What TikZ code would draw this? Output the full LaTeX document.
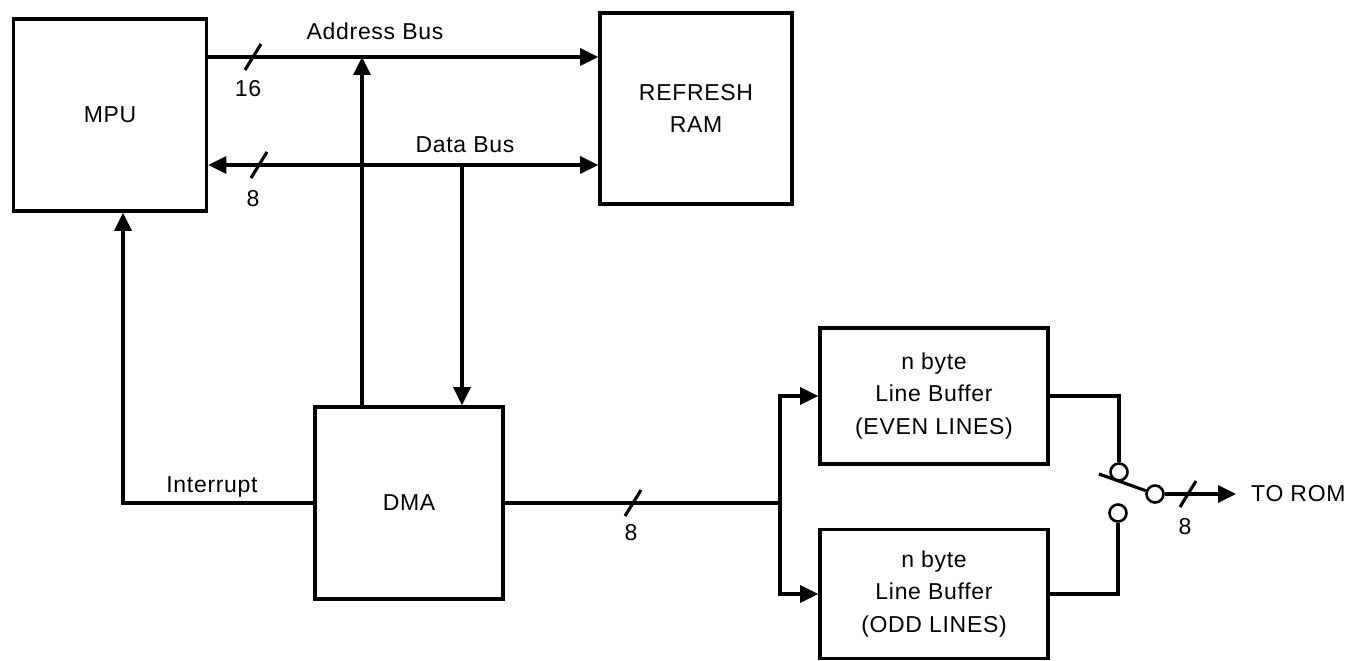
\documentclass[tikz,border=0pt]{standalone}
\usepackage{fontspec}
\setmainfont{Liberation Sans}[LetterSpace=3]
\usetikzlibrary{arrows.meta,calc}
\begin{document}
\begin{tikzpicture}[x=1pt,y=-1pt,
  box/.style={draw, line width=3.6pt, inner sep=0pt, align=center, font=\fontsize{23}{32.5}\selectfont},
  wire/.style={line width=3.1pt},
  arr/.style={wire, -{Triangle[length=18pt,width=17pt]}},
  lbl/.style={font=\fontsize{23}{26}\selectfont, inner sep=0pt},
  contact/.style={circle, draw, line width=2.6pt, minimum size=17pt, inner sep=0pt, fill=white},
  bslash/.pic={\draw[line width=3.1pt] (-8,13) -- (8,-13);}
]
\useasboundingbox (0,0) rectangle (1353,661);
% boxes
\node[box, minimum width=193pt, minimum height=192pt] (mpu) at (110,115) {MPU};
\node[box, minimum width=192pt, minimum height=191pt] (ram) at (696,108.5) {REFRESH\\RAM};
\node[box, minimum width=188pt, minimum height=192pt] (dma) at (409,503) {DMA};
\node[box, minimum width=228pt, minimum height=136pt] (even) at (934,396) {n byte\\Line Buffer\\(EVEN LINES)};
\node[box, minimum width=228pt, minimum height=129pt] (odd) at (934,594) {n byte\\Line Buffer\\(ODD LINES)};
% helper coordinates
\coordinate (yab) at (0,57);
\coordinate (ydb) at (0,165);
\coordinate (xa) at (362,0);
\coordinate (xd) at (462,0);
\coordinate (xi) at (123,0);
\coordinate (j) at (780,503);
% buses
\draw[arr] (mpu.east |- yab) -- (ram.west |- yab);
\draw[wire, {Triangle[length=18pt,width=17pt]}-{Triangle[length=18pt,width=17pt]}] (mpu.east |- ydb) -- (ram.west |- ydb);
\draw[arr] (dma.north -| xa) -- (xa |- yab);
\draw[arr] (xd |- ydb) -- (dma.north -| xd);
\draw[arr] (dma.west) -| (mpu.south -| xi);
\draw[wire] (dma.east) -- (j);
\draw[arr] (j) |- (even.west);
\draw[arr] (j) |- (odd.west);
% switch
\node[contact] (c1) at (1119,472) {};
\node[contact] (c2) at (1118,513) {};
\node[contact] (c3) at (1155,494) {};
\coordinate (bl) at (1099,474);
\draw[wire] (even.east) -| (c1.north);
\draw[wire] (odd.east) -| (c2.south);
\draw[wire] (bl) -- (c3);
\node[lbl, anchor=west] (rom) at (1251,494) {TO ROM};
\draw[arr, shorten >=15pt] (c3) -- (rom.west);
% bus width slashes
\pic at (253,57) {bslash};
\pic at (259,165) {bslash};
\pic at (633,503) {bslash};
\pic at (1188,494) {bslash};
% labels
\node[lbl, anchor=base] (lab) at (375,40) {Address Bus};
\node[lbl, anchor=base] (ldb) at (465,152) {Data Bus};
\node[lbl, anchor=base] (n16) at (248,96) {16};
\node[lbl, anchor=base] (n8a) at (253,206) {8};
\node[lbl, anchor=base] (n8b) at (631,540) {8};
\node[lbl, anchor=base] (n8c) at (1185,534) {8};
\node[lbl, anchor=base] (lint) at (212,492) {Interrupt};
\end{tikzpicture}
\end{document}
